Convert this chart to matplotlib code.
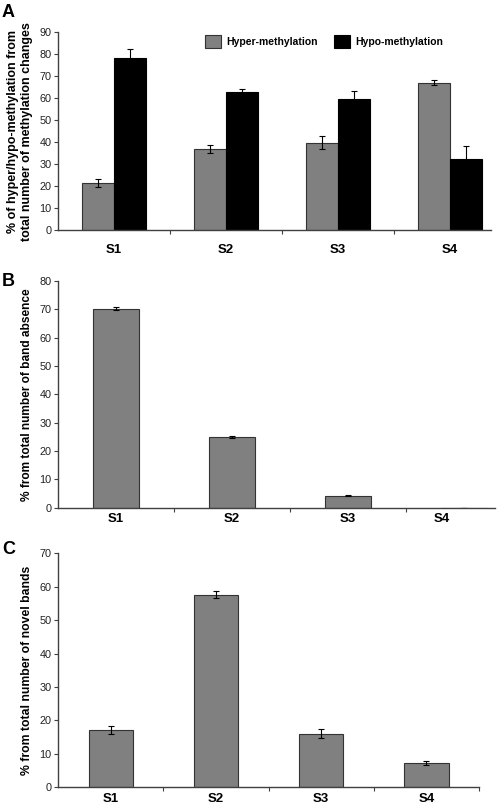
import matplotlib
matplotlib.use('Agg')
import matplotlib.pyplot as plt
import numpy as np

plt.rcParams.update({'font.family': 'Liberation Sans',
                     'font.size': 7,
                     'axes.linewidth': 1.0})

# Data
samples = ['S1', 'S2', 'S3', 'S4']

hyper = [21.3, 36.8, 39.7, 67.1]
hyper_err = [1.9, 1.8, 3.0, 1.2]
hypo = [78.4, 62.9, 59.6, 32.2]
hypo_err = [4.2, 1.3, 3.6, 6.0]

absence = [70.3, 24.9, 4.2, 0.0]
absence_err = [0.6, 0.3, 0.2, 0.0]

novel = [17.1, 57.6, 16.1, 7.3]
novel_err = [1.2, 1.0, 1.4, 0.5]

gray = '#808080'
edge = '#333333'
spine_col = '#404040'

fig = plt.figure(figsize=(4.98, 8.09), dpi=100)
axA = fig.add_axes([0.1165, 0.7157, 0.8695, 0.2444])
axB = fig.add_axes([0.1165, 0.3724, 0.8775, 0.2802])
axC = fig.add_axes([0.1165, 0.0268, 0.8454, 0.2892])

x = np.arange(1, len(samples) + 1)
err_kw = dict(ecolor='black', elinewidth=0.8, capsize=2.5, capthick=0.8)


def style(ax, xmax, ymax, ystep, label_pos, bounds, xpad):
    for s in ['top', 'right']:
        ax.spines[s].set_visible(False)
    for s in ['left', 'bottom']:
        ax.spines[s].set_color(spine_col)
    ax.set_xlim(0.5, xmax)
    ax.set_ylim(0, ymax)
    ax.set_yticks(np.arange(0, ymax + 1, ystep))
    ax.tick_params(axis='y', length=3, width=0.8, colors=spine_col,
                   labelcolor='#222222', labelsize=7.8, pad=1.5)
    ax.set_xticks(label_pos)
    ax.set_xticklabels(samples, fontsize=9.5, fontweight='bold')
    ax.tick_params(axis='x', which='major', length=0, pad=xpad)
    ax.set_xticks(bounds, minor=True)
    ax.tick_params(axis='x', which='minor', length=3, width=0.8,
                   colors=spine_col)


# Panel A
w = 0.285
axA.bar(x - w / 2, hyper, w, yerr=hyper_err, color=gray, edgecolor=edge,
        linewidth=0.8, error_kw=err_kw, label='Hyper-methylation', zorder=2)
axA.bar(x + w / 2, hypo, w, yerr=hypo_err, color='black', edgecolor='black',
        linewidth=0.8, error_kw=err_kw, label='Hypo-methylation', zorder=2)
style(axA, 4.366, 90, 10, x, [1.5, 2.5, 3.5], 10)
axA.set_ylabel('% of hyper/hypo-methylation from\ntotal number of methylation changes',
               fontsize=9.0, fontweight='bold', labelpad=5, linespacing=1.15)
axA.legend(loc='upper center', bbox_to_anchor=(0.615, 1.035), ncol=2, frameon=False,
           prop={'weight': 'bold', 'size': 7.5}, handlelength=1.5,
           handleheight=1.6, columnspacing=1.6, handletextpad=0.5)

# Panel B
axB.bar(x, absence, 0.4, yerr=absence_err, color=gray, edgecolor=edge,
        linewidth=0.8, error_kw=err_kw, zorder=2)
posB = list(x.astype(float))
posB[-1] = 3.81
style(axB, 4.267, 80, 10, posB, [1.5, 2.5, 3.5], 4)
axB.set_ylabel('% from total number of band absence', fontsize=8.6,
               fontweight='bold', labelpad=5)

# Panel C
axC.bar(x, novel, 0.42, yerr=novel_err, color=gray, edgecolor=edge,
        linewidth=0.8, error_kw=err_kw, zorder=2)
style(axC, 4.5, 70, 10, x, [1.5, 2.5, 3.5, 4.5], 4)
axC.set_ylabel('% from total number of novel bands', fontsize=8.8,
               fontweight='bold', labelpad=5)

# Panel letters
fig.text(0.004, 0.995, 'A', fontsize=13, fontweight='bold', va='top')
fig.text(0.004, 0.663, 'B', fontsize=13, fontweight='bold', va='top')
fig.text(0.004, 0.331, 'C', fontsize=13, fontweight='bold', va='top')

fig.savefig('out.png', dpi=100)
